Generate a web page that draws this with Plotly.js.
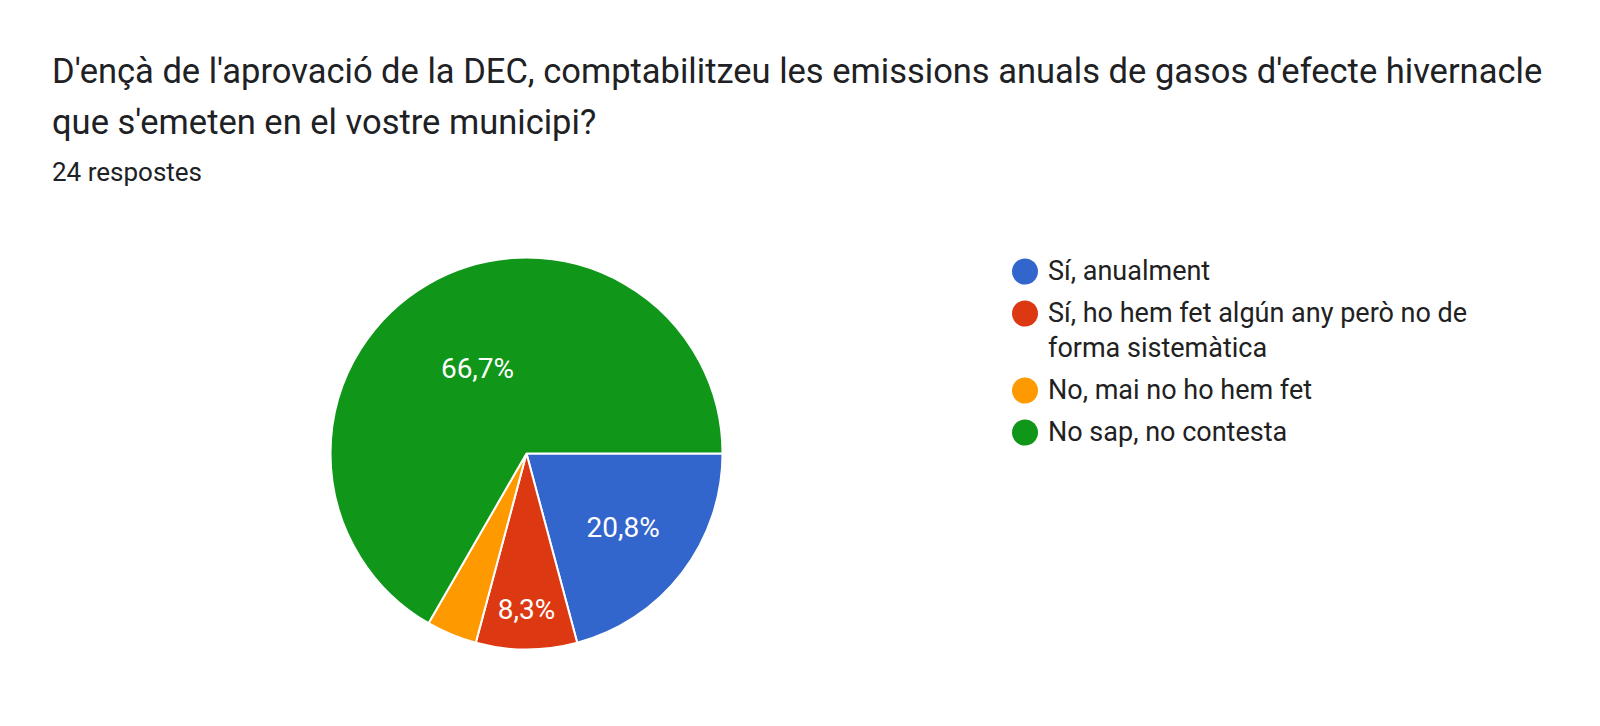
<!DOCTYPE html>
<html>
<head>
<meta charset="utf-8">
<script src="https://cdn.plot.ly/plotly-3.0.1.min.js"></script>
<style>
	body { margin: 0; background: #fff; }
	#chart { width: 1600px; height: 726px; }
</style>
</head>
<body>
<div id="chart"></div>
<script>
var title_lines = [
	"D'ençà de l'aprovació de la DEC, comptabilitzeu les emissions anuals de gasos d'efecte hivernacle",
	"que s'emeten en el vostre municipi?"
];
var subtitle = "24 respostes";

var labels = [
	"Sí, anualment",
	"Sí, ho hem fet algún any però no de<br>forma sistemàtica",
	"No, mai no ho hem fet",
	"No sap, no contesta"
];
var counts = [5, 2, 1, 16];
var slice_text = ["20,8%", "8,3%", "", "66,7%"];
var colors = ["#3366cc", "#dc3912", "#ff9900", "#109618"];

const W = 1600;
const H = 726;
const font_family = "Roboto, Arial, sans-serif";

function py(px) { return 1 - px / H; }

function setup()
{
	var pie =
	{
		type: "pie",
		labels: labels,
		values: counts,
		text: slice_text,
		textinfo: "text",
		textposition: "inside",
		insidetextorientation: "horizontal",
		textfont: {family: font_family, size: 28, color: "#ffffff"},
		marker: {colors: colors, line: {color: "#ffffff", width: 2}},
		sort: false,
		direction: "clockwise",
		rotation: 90,
		showlegend: false,
		hoverinfo: "label+value+percent",
		domain: {
			x: [330.5 / W, 722.5 / W],
			y: [py(649.5), py(257.5)]
		}
	};

	var annotations = [];
	var shapes = [];

	// title, one annotation per line
	var title_y = [71, 122];
	title_lines.forEach((t, i) =>
	{
		annotations.push({
			xref: "paper", yref: "paper",
			x: 50 / W, y: py(title_y[i]),
			xanchor: "left", yanchor: "middle",
			text: t, showarrow: false,
			font: {family: font_family, size: 34.5, color: "#202124"}
		});
	});

	annotations.push({
		xref: "paper", yref: "paper",
		x: 50 / W, y: py(172),
		xanchor: "left", yanchor: "middle",
		text: subtitle, showarrow: false,
		font: {family: font_family, size: 26, color: "#202124"}
	});

	// hand made legend with round markers
	var y = 271.5;
	labels.forEach((lab, i) =>
	{
		shapes.push({
			type: "circle",
			xref: "paper", yref: "paper",
			xsizemode: "pixel", ysizemode: "pixel",
			xanchor: 1025 / W, yanchor: py(y),
			x0: -13, x1: 13, y0: -13, y1: 13,
			fillcolor: colors[i],
			line: {width: 0}
		});
		var lines = lab.split("<br>");
		lines.forEach((ln, j) =>
		{
			annotations.push({
				xref: "paper", yref: "paper",
				x: 1046 / W, y: py(y - 1 + j * 35),
				xanchor: "left", yanchor: "middle",
				text: ln, showarrow: false,
				font: {family: font_family, size: 27, color: "#212121"}
			});
		});
		y += 42 + (lines.length - 1) * 35;
	});

	var layout =
	{
		width: W,
		height: H,
		margin: {l: 0, r: 0, t: 0, b: 0},
		paper_bgcolor: "#ffffff",
		font: {family: font_family},
		annotations: annotations,
		shapes: shapes
	};

	Plotly.newPlot("chart", [pie], layout, {displayModeBar: false, staticPlot: true});
}

setup();
</script>
</body>
</html>
